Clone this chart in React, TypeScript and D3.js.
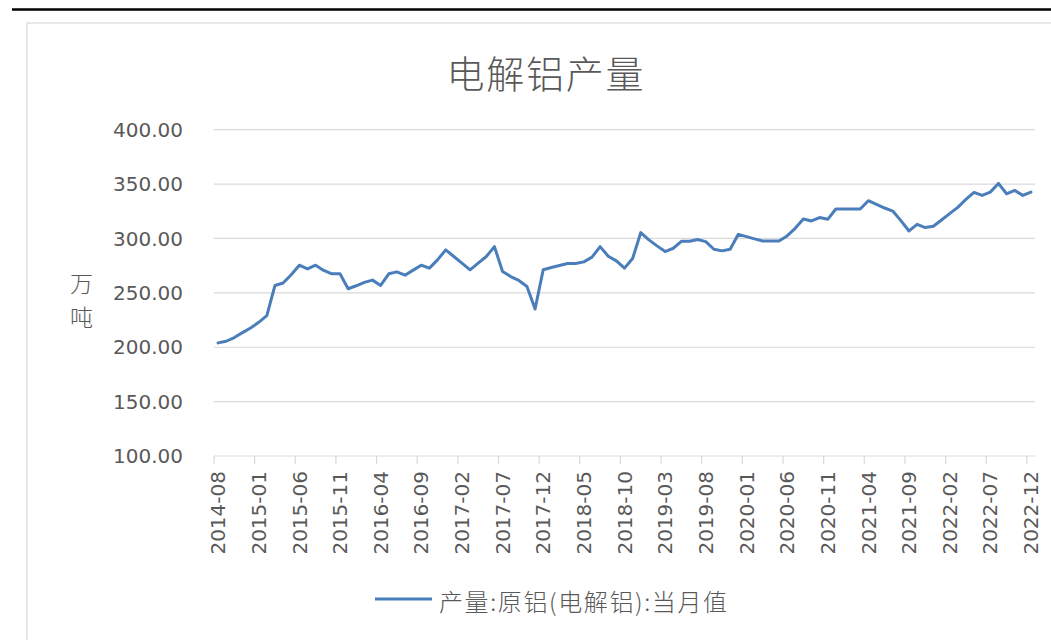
import React from 'react';
import * as d3 from 'd3';

// monthly primary aluminium output, 万吨
const v2014 = [204.0, 205.5, 208.9, 213.4, 217.7];
const v2015 = [222.9, 229.0, 256.8, 259.0, 266.6, 275.4, 272.0, 275.4, 270.6, 267.5, 267.5, 253.8];
const v2016 = [256.5, 259.6, 261.7, 256.8, 267.5, 269.3, 266.2, 270.9, 275.4, 272.7, 280.3, 289.5];
const v2017 = [283.4, 277.3, 271.2, 277.3, 283.4, 292.5, 269.6, 265.0, 261.4, 255.9, 235.1, 271.2];
const v2018 = [273.3, 275.1, 277.0, 277.0, 278.5, 282.8, 292.5, 283.7, 279.4, 272.7, 281.6, 305.4];
const v2019 = [298.7, 293.2, 288.0, 291.0, 297.4, 297.4, 299.0, 297.1, 290.1, 288.6, 290.1, 303.8];
const v2020 = [301.7, 299.6, 297.7, 297.7, 297.7, 302.3, 309.3, 317.9, 316.1, 319.2, 317.6, 327.1];
const v2021 = [327.1, 327.1, 327.1, 334.7, 331.3, 328.0, 325.2, 316.4, 306.9, 313.0, 310.0, 311.2];
const v2022 = [317.0, 322.8, 328.6, 335.9, 342.3, 339.6, 342.6, 350.6, 341.1, 344.2, 339.6, 342.6];

const values = [...v2014, ...v2015, ...v2016, ...v2017, ...v2018, ...v2019, ...v2020, ...v2021, ...v2022];
const months = d3.timeMonth
  .range(new Date(2014, 7, 1), new Date(2023, 0, 1))
  .map(d3.timeFormat('%Y-%m'));

const yTicks = [100, 150, 200, 250, 300, 350, 400];
const title = '电解铝产量';
const yLabel = ['万', '吨'];
const seriesName = '产量:原铝(电解铝):当月值';

const W = 1051;
const H = 640;
const TEXT = '#595959';
const GRID = '#d9d9d9';
const BLUE = '#4a7ebb';
const NUM_FONT = '"DejaVu Sans", sans-serif';
const CJK_FONT = '"Noto Sans CJK SC", sans-serif';

const App: React.FC = () => {
  const x = d3.scaleBand<string>().domain(months).range([214, 1035]);
  const y = d3.scaleLinear().domain([100, 400]).range([456, 129.7]);
  const cx = (m: string) => x(m)! + x.bandwidth() / 2;

  const line = d3.line<number>()
    .x((_, i) => cx(months[i]))
    .y(d => y(d));

  const tickMonths = months.filter((_, i) => i % 5 === 0);

  return (
    <div style={{ position: 'absolute', left: 0, top: 0 }}>
      <svg width={W} height={H} style={{ display: 'block', background: '#fff' }}>
        {/* page rule and chart frame */}
        <line x1={12} x2={W} y1={9.5} y2={9.5} stroke="#000" strokeWidth={2.5} />
        <rect x={27} y={23} width={1100} height={700} fill="none" stroke={GRID} strokeWidth={1.2} />

        <text x={545} y={71} textAnchor="middle" dominantBaseline="central"
          fontFamily={CJK_FONT} fontWeight={300} fontSize={38} fill={TEXT} textLength={197}>
          {title}
        </text>

        {/* grid + y labels */}
        {yTicks.map(t => (
          <g key={t}>
            <line x1={214} x2={1035} y1={y(t)} y2={y(t)} stroke={GRID} strokeWidth={1.2} />
            <text x={183} y={y(t)} dy="0.36em" textAnchor="end"
              fontFamily={NUM_FONT} fontSize={20} fill={TEXT}>
              {t.toFixed(2)}
            </text>
          </g>
        ))}

        {yLabel.map((c, i) => (
          <text key={c} x={81.5} y={281.5 + i * 34.5} textAnchor="middle" dominantBaseline="central"
            fontFamily={CJK_FONT} fontWeight={300} fontSize={23} fill={TEXT}>
            {c}
          </text>
        ))}

        {/* x ticks & labels */}
        {tickMonths.map(m => (
          <g key={m}>
            <line x1={x(m)!} x2={x(m)!} y1={y(100)} y2={y(100) + 8} stroke={GRID} strokeWidth={1.2} />
            <text transform={`translate(${cx(m)},471) rotate(-90)`} textAnchor="end" dy="0.36em"
              fontFamily={NUM_FONT} fontSize={20} fill={TEXT}>
              {m}
            </text>
          </g>
        ))}

        <path d={line(values)!} fill="none" stroke={BLUE} strokeWidth={3} strokeLinejoin="round" strokeLinecap="round" />

        {/* legend */}
        <line x1={375} x2={432} y1={599} y2={599} stroke={BLUE} strokeWidth={3} />
        <text x={439} y={600} dominantBaseline="central" fontFamily={CJK_FONT} fontWeight={300}
          fontSize={24} fill={TEXT} textLength={288} lengthAdjust="spacing">
          {seriesName}
        </text>
      </svg>
    </div>
  );
};

export default App;
